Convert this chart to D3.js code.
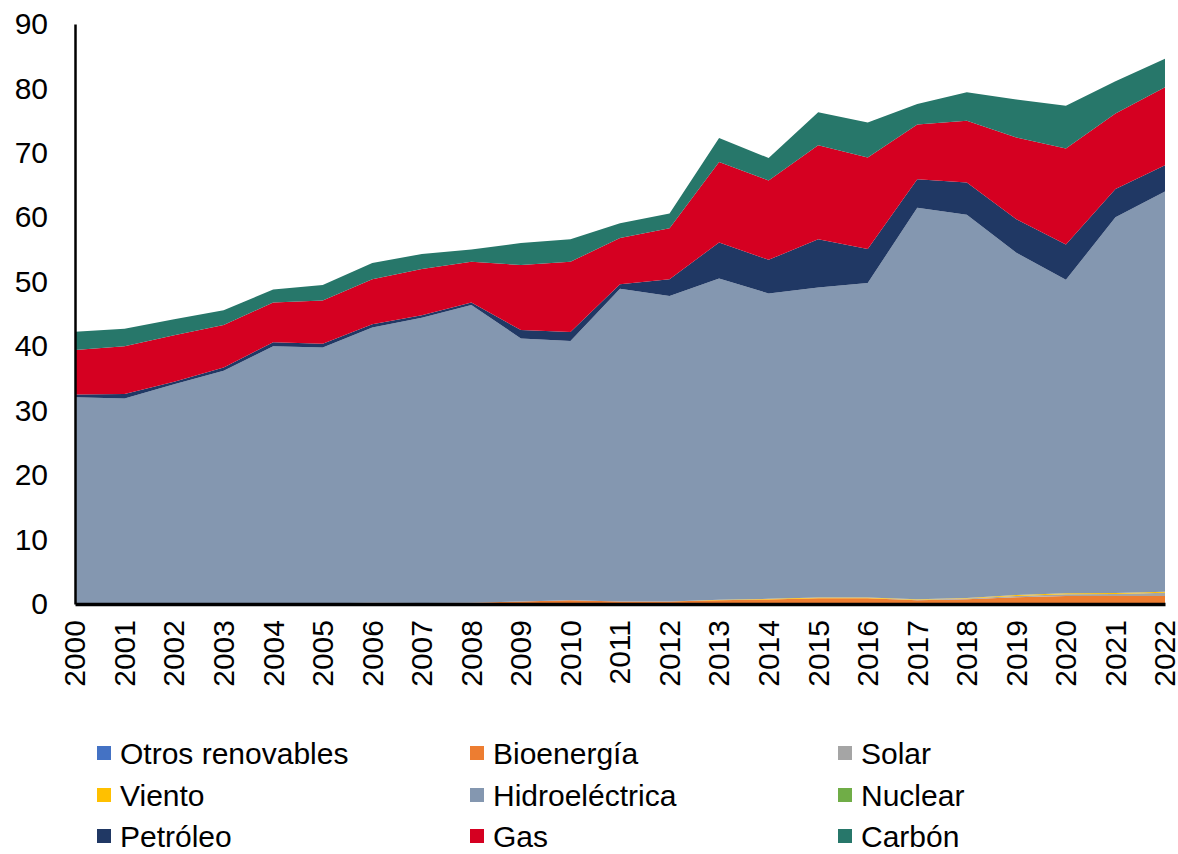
<!DOCTYPE html>
<html>
<head>
<meta charset="utf-8">
<script src="https://cdn.jsdelivr.net/npm/d3@7"></script>
<style>
  body { margin: 0; background: #fff; }
  text { font-family: Arial, "Liberation Sans", sans-serif; fill: #000; }
</style>
</head>
<body>
<svg id="chart" width="1178" height="854"></svg>
<script>
// years on the x axis
const years = d3.range(2000, 2023);

// series (stack order, bottom to top)
const otros   = [0,0,0,0,0,0,0,0,0,0,0,0,0,0,0,0,0,0,0,0,0,0,0];
const bio     = [0.1,0.1,0.1,0.1,0.1,0.1,0.2,0.15,0.2,0.4,0.6,0.4,0.4,0.6,0.7,0.9,0.9,0.6,0.75,1.05,1.25,1.25,1.25];
const solar   = [0,0,0,0,0,0,0,0,0,0,0,0,0,0,0,0,0,0.05,0.1,0.2,0.25,0.3,0.5];
const viento  = [0,0,0,0,0,0,0,0,0,0,0,0,0,0.05,0.1,0.1,0.1,0.1,0.1,0.15,0.15,0.15,0.15];
const hidro   = [32.0,31.8,34.0,36.1,39.9,39.7,42.7,44.25,46.2,40.8,40.2,48.5,47.4,49.85,47.4,48.1,48.8,60.75,59.45,53.1,48.65,58.3,62.1];
const nuclear = [0,0,0,0,0,0,0,0,0,0,0,0,0,0,0,0,0,0,0,0,0,0,0];
const petroleo= [0.4,0.7,0.4,0.5,0.6,0.6,0.5,0.4,0.4,1.3,1.4,0.7,2.6,5.6,5.2,7.5,5.3,4.4,5.0,5.2,5.5,4.4,4.1];
const gas     = [6.9,7.4,7.2,6.6,6.2,6.7,7.0,7.2,6.3,10.1,10.9,7.2,7.9,12.5,12.3,14.6,14.2,8.5,9.6,12.7,14.9,11.7,12.1];
const carbon  = [2.85,2.7,2.5,2.3,2.0,2.4,2.5,2.3,1.9,3.4,3.5,2.3,2.3,3.7,3.5,5.1,5.4,3.2,4.4,5.9,6.6,5.0,4.4];

const keys   = ["Otros renovables","Bioenergía","Solar","Viento","Hidroeléctrica","Nuclear","Petróleo","Gas","Carbón"];
const colors = ["#4472C4","#ED7D31","#A5A5A5","#FFC000","#8497B0","#70AD47","#203864","#D50021","#27776A"];
const yTicks = [0,10,20,30,40,50,60,70,80,90];

const seriesData = [otros, bio, solar, viento, hidro, nuclear, petroleo, gas, carbon];
const rows = years.map((yr, i) => {
  const r = { year: yr };
  keys.forEach((k, j) => r[k] = seriesData[j][i]);
  return r;
});

const svg = d3.select("#chart");
const margin = { left: 75, top: 24, right: 13, bottom: 250 };
const width = 1178, height = 854;

const x = d3.scaleLinear().domain([2000, 2022]).range([margin.left, width - margin.right]);
const y = d3.scaleLinear().domain([0, 90]).range([height - margin.bottom, margin.top]);

const stack = d3.stack().keys(keys);
const layers = stack(rows);

const area = d3.area()
  .x(d => x(d.data.year))
  .y0(d => y(d[0]))
  .y1(d => y(d[1]));

svg.append("g").selectAll("path")
  .data(layers)
  .join("path")
  .attr("d", area)
  .attr("fill", (d, i) => colors[i]);

// y axis
const yAxis = svg.append("g")
  .attr("transform", `translate(${margin.left},0)`)
  .call(d3.axisLeft(y).tickValues(yTicks).tickSize(0).tickPadding(27));
yAxis.select(".domain").attr("stroke", "#000").attr("stroke-width", 2.5);
yAxis.selectAll("text").style("font-size", "30px").attr("font-family", null);

// x axis
const xAxis = svg.append("g")
  .attr("transform", `translate(0,${y(0)})`)
  .call(d3.axisBottom(x).tickValues(years).tickFormat(d3.format("d")).tickSize(0));
xAxis.select(".domain").attr("stroke", "#000").attr("stroke-width", 3.5);
xAxis.selectAll("text")
  .style("font-size", "30px")
  .attr("font-family", null)
  .attr("text-anchor", "end")
  .attr("transform", "rotate(-90)")
  .attr("x", -16)
  .attr("y", 0)
  .attr("dy", "0.33em");

// legend
const legendX = [97, 470, 838];
const legendY = [753, 795, 836];
const lg = svg.append("g").selectAll("g")
  .data(keys)
  .join("g")
  .attr("transform", (d, i) => `translate(${legendX[i % 3]},${legendY[Math.floor(i / 3)]})`);
lg.append("rect")
  .attr("x", 0).attr("y", -7)
  .attr("width", 14).attr("height", 14)
  .attr("fill", (d, i) => colors[i]);
lg.append("text")
  .attr("x", 23)
  .attr("y", 0)
  .attr("dy", "0.36em")
  .style("font-size", "30px")
  .text(d => d);
</script>
</body>
</html>
